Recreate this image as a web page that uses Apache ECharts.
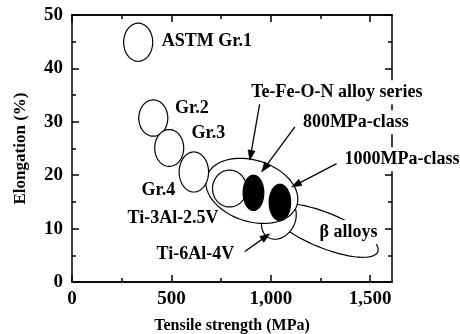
<!DOCTYPE html>
<html><head><meta charset="utf-8">
<script src="https://cdn.jsdelivr.net/npm/echarts@6/dist/echarts.min.js"></script>
<style>html,body{margin:0;padding:0;background:#fff;}#c{width:460px;height:334px;}</style>
</head><body><div id="c"></div>
<script>
// ---- axis ticks ----
const xTickValues = [0, 500, 1000, 1500];
const xMinorTickValues = [250, 750, 1250];
const yTickValues = [0, 10, 20, 30, 40, 50];

// ---- alloy grades (axis-aligned ellipses: centre and half-spread in data units) ----
const gradeNames = ['ASTM Gr.1', 'Gr.2', 'Gr.3', 'Gr.4', 'Ti-3Al-2.5V', '800MPa-class', '1000MPa-class'];
const gradeStrength = [333, 409, 489, 613, 793, 913, 1046];          // MPa
const gradeElongation = [44.9, 30.7, 25.1, 20.6, 17.5, 16.7, 14.9];  // %
const gradeStrengthSpread = [73, 73, 73, 74, 86, 52, 54];            // MPa
const gradeElongationSpread = [3.57, 3.4, 3.45, 3.75, 3.45, 3.3, 3.4]; // %
const gradeSolid = [0, 0, 0, 0, 0, 1, 1];

// ---- tilted regions: centre and two conjugate semi-axis end points (data units) ----
const regionNames = ['β alloys', 'Ti-6Al-4V', 'Te-Fe-O-N alloy series'];
const regionCenter = [[1272.4, 9.66], [1040.8, 11.73], [904.8, 17.07]];
const regionAxisEndA = [[1538.3, 5.65], [1093.6, 15.14], [1131.4, 14.35]];
const regionAxisEndB = [[1239.2, 6.62], [1110.8, 10.23], [952.2, 22.53]];

// ---- annotation texts ----
const labelTexts = ['ASTM Gr.1', 'Gr.2', 'Gr.3', 'Gr.4', 'Ti-3Al-2.5V', 'β alloys', 'Ti-6Al-4V',
  'Te-Fe-O-N alloy series', '800MPa-class', '1000MPa-class'];

// ---- annotation placement (data coordinates) ----
const labelAnchors = [[451.6, 45.0], [517.6, 32.5], [601.2, 27.8], [349.4, 17.17], [279, 11.96],
  [1230.6, 9.34], [425, 5.1], [886.2, 35.55], [1146.5, 29.9], [1356.5, 23.0]];
const labelBoxed = [0, 0, 0, 0, 0, 1, 0, 1, 1, 1];
const arrowFrom = [[946, 33.73], [1121.3, 29.04], [1331.3, 22.18], [869.6, 5.72]];
const arrowTo = [[894.6, 22.8], [953.7, 20.6], [1104.7, 17.79], [995.5, 9.04]];

const FONT = '"Liberation Serif", "Times New Roman", serif';

function ellipsePoints(c, a, b) {
  const pts = [];
  const ax = a[0] - c[0], ay = a[1] - c[1], bx = b[0] - c[0], by = b[1] - c[1];
  for (let k = 0; k < 96; k++) {
    const t = k / 96 * Math.PI * 2;
    pts.push([c[0] + ax * Math.cos(t) + bx * Math.sin(t), c[1] + ay * Math.cos(t) + by * Math.sin(t)]);
  }
  return pts;
}

const chart = echarts.init(document.getElementById('c'), null, {renderer: 'canvas'});

const axisLineStyle = {color: '#000', width: 1.5};
const tickStyle = {color: '#000', width: 1.5};
function xAxisDef(pos, ticks, len, labels, extra) {
  return Object.assign({
    type: 'value', position: pos, min: 0, max: 1610, interval: 500,
    axisLine: {show: true, onZero: false, lineStyle: axisLineStyle},
    axisTick: {show: true, inside: true, length: len, customValues: ticks, lineStyle: tickStyle},
    axisLabel: labels ? {
      show: true, customValues: xTickValues, margin: 8, color: '#000',
      fontFamily: FONT, fontWeight: 'bold', fontSize: 19,
      formatter: v => Number(v).toLocaleString('en-US')
    } : {show: false},
    splitLine: {show: false}
  }, extra || {});
}
function yAxisDef(pos, labels, extra) {
  return Object.assign({
    type: 'value', position: pos, min: 0, max: 50, interval: 10,
    axisLine: {show: true, onZero: false, lineStyle: axisLineStyle},
    axisTick: {show: true, inside: true, length: 7, lineStyle: tickStyle},
    minorTick: {show: true, splitNumber: 2, length: 4, lineStyle: tickStyle},
    axisLabel: labels ? {
      show: true, customValues: yTickValues, margin: 9, color: '#000',
      fontFamily: FONT, fontWeight: 'bold', fontSize: 19
    } : {show: false},
    splitLine: {show: false}, minorSplitLine: {show: false}
  }, extra || {});
}

const option = {
  backgroundColor: '#fff',
  animation: false,
  grid: {left: 72, right: 68, top: 15, bottom: 52, containLabel: false, outerBoundsMode: 'none'},
  xAxis: [
    xAxisDef('bottom', xTickValues, 7, true, {
      name: 'Tensile strength (MPa)', nameLocation: 'middle', nameGap: 36,
      nameTextStyle: {fontFamily: FONT, fontWeight: 'bold', fontSize: 16, color: '#000'}
    }),
    xAxisDef('top', xTickValues, 7, false),
    xAxisDef('bottom', xMinorTickValues, 4, false),
    xAxisDef('top', xMinorTickValues, 4, false)
  ],
  yAxis: [
    yAxisDef('left', true, {
      name: 'Elongation (%)', nameLocation: 'middle', nameGap: 43, nameRotate: 90,
      nameTextStyle: {fontFamily: FONT, fontWeight: 'bold', fontSize: 17, color: '#000'}
    }),
    yAxisDef('right', false)
  ],
  series: [
    {
      type: 'custom', name: 'regions', z: 2, clip: false,
      data: regionCenter.map((c, i) => [c[0], c[1], regionAxisEndA[i][0], regionAxisEndA[i][1], regionAxisEndB[i][0], regionAxisEndB[i][1]]),
      renderItem: (params, api) => {
        const c = api.coord([api.value(0), api.value(1)]);
        const a = api.coord([api.value(2), api.value(3)]);
        const b = api.coord([api.value(4), api.value(5)]);
        return {type: 'polygon', shape: {points: ellipsePoints(c, a, b)},
          style: {fill: '#fff', stroke: '#000', lineWidth: 1.2}};
      }
    },
    {
      type: 'custom', name: 'grades', z: 3, clip: false,
      data: gradeStrength.map((x, i) => [x, gradeElongation[i], gradeStrengthSpread[i], gradeElongationSpread[i], gradeSolid[i]]),
      renderItem: (params, api) => {
        const x = api.value(0), y = api.value(1), sx = api.value(2), sy = api.value(3);
        const c = api.coord([x, y]);
        const a = api.coord([x + sx, y]);
        const b = api.coord([x, y + sy]);
        const solid = api.value(4) === 1;
        return {type: 'polygon', shape: {points: ellipsePoints(c, a, b)},
          style: {fill: solid ? '#000' : '#fff', stroke: '#000', lineWidth: 1.2}};
      }
    },
    {
      type: 'custom', name: 'arrows', z: 4, clip: false,
      data: arrowFrom.map((f, i) => [f[0], f[1], arrowTo[i][0], arrowTo[i][1]]),
      renderItem: (params, api) => {
        const p = api.coord([api.value(0), api.value(1)]);
        const q = api.coord([api.value(2), api.value(3)]);
        const dx = q[0] - p[0], dy = q[1] - p[1];
        const L = Math.sqrt(dx * dx + dy * dy);
        const ux = dx / L, uy = dy / L;
        const hl = 10, hw = 3.6;
        const bx = q[0] - ux * hl, by = q[1] - uy * hl;
        return {type: 'group', children: [
          {type: 'line', shape: {x1: p[0], y1: p[1], x2: bx + ux * 2, y2: by + uy * 2},
            style: {stroke: '#000', lineWidth: 1.3}},
          {type: 'polygon', shape: {points: [[q[0], q[1]], [bx - uy * hw, by + ux * hw], [bx + uy * hw, by - ux * hw]]},
            style: {fill: '#000', stroke: '#000', lineWidth: 0.5}}
        ]};
      }
    },
    {
      type: 'custom', name: 'labels', z: 5, clip: false,
      data: labelAnchors.map((a, i) => [a[0], a[1], labelBoxed[i], i]),
      renderItem: (params, api) => {
        const p = api.coord([api.value(0), api.value(1)]);
        const boxed = api.value(2) === 1;
        const txt = labelTexts[api.value(3)];
        const st = {text: txt, x: p[0], y: p[1], fill: '#000', align: 'left', verticalAlign: 'middle',
          font: 'bold 18px ' + FONT};
        if (boxed) { st.backgroundColor = '#fff'; st.padding = [3, 3]; }
        return {type: 'text', style: st};
      }
    }
  ]
};
chart.setOption(option);
</script>
</body></html>
